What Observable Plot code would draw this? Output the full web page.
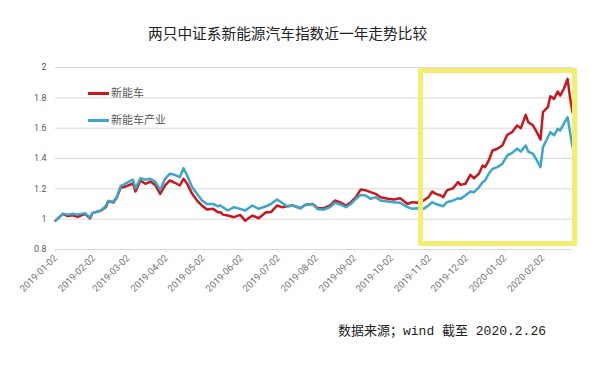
<!DOCTYPE html>
<html>
<head>
<meta charset="utf-8">
<script src="https://cdn.jsdelivr.net/npm/d3@7"></script>
<script src="https://cdn.jsdelivr.net/npm/@observablehq/plot@0.6"></script>
<style>
  html, body { margin: 0; padding: 0; background: #fff; }
  #wrap { position: relative; width: 611px; height: 372px; overflow: hidden; background: #fff; }
  #title { position: absolute; top: 23px; left: 148px; line-height: 20px; font-size: 14.7px; color: #222;
           font-family: "Noto Sans CJK SC", sans-serif; white-space: nowrap; }
  #caption { position: absolute; top: 322px; left: 338px; line-height: 20px; font-size: 13px; color: #222;
             font-family: "Liberation Mono", "Noto Sans CJK SC", monospace; white-space: nowrap; }
  #chart { position: absolute; top: 50px; left: 0; }
  .lg { position: absolute; left: 88px; font-size: 11px; color: #595959; font-family: "Noto Sans CJK SC", sans-serif;
        line-height: 14px; white-space: nowrap; }
  .lg i { display: inline-block; width: 21px; height: 3px; vertical-align: middle; margin-right: 2px; position: relative; top: -1px; }
</style>
</head>
<body>
<div id="wrap">
  <div id="title"></div>
  <div id="chart"></div>
  <div class="lg" id="lg1" style="top:85px"><i style="background:#c8171e"></i><span></span></div>
  <div class="lg" id="lg2" style="top:112px"><i style="background:#3aa7cb"></i><span></span></div>
  <div id="caption"></div>
</div>
<script>
const titleText = "两只中证系新能源汽车指数近一年走势比较";
const captionText = "数据来源；wind 截至 2020.2.26";
const seriesNames = ["新能车", "新能车产业"];
const seriesColors = ["#c8171e", "#3aa7cb"];

const dates = [
  "2019-01-02","2019-01-06","2019-01-08","2019-01-12","2019-01-16","2019-01-20","2019-01-23","2019-01-26","2019-01-30",
  "2019-02-01","2019-02-08","2019-02-12","2019-02-14","2019-02-18","2019-02-21","2019-02-24","2019-02-26",
  "2019-03-02","2019-03-06","2019-03-08","2019-03-12","2019-03-16","2019-03-20","2019-03-24","2019-03-28",
  "2019-04-01","2019-04-05","2019-04-09","2019-04-13","2019-04-16","2019-04-19","2019-04-23","2019-04-27",
  "2019-05-01","2019-05-05","2019-05-10","2019-05-14","2019-05-16","2019-05-18","2019-05-22","2019-05-27",
  "2019-06-01","2019-06-05","2019-06-11","2019-06-16","2019-06-22","2019-06-26",
  "2019-07-01","2019-07-05","2019-07-09","2019-07-14","2019-07-20","2019-07-24","2019-07-30",
  "2019-08-03","2019-08-08","2019-08-13","2019-08-17","2019-08-22","2019-08-26","2019-08-30",
  "2019-09-03","2019-09-07","2019-09-11","2019-09-15","2019-09-19","2019-09-23","2019-09-29",
  "2019-10-04","2019-10-09","2019-10-15","2019-10-19","2019-10-23","2019-10-28",
  "2019-11-01","2019-11-04","2019-11-07","2019-11-11","2019-11-13","2019-11-16","2019-11-21","2019-11-25","2019-11-27",
  "2019-12-01","2019-12-05","2019-12-08","2019-12-12","2019-12-15","2019-12-17","2019-12-20","2019-12-23","2019-12-27","2019-12-31",
  "2020-01-04","2020-01-08","2020-01-12","2020-01-15","2020-01-19","2020-01-21","2020-01-25","2020-01-28","2020-01-31",
  "2020-02-02","2020-02-06","2020-02-08","2020-02-11","2020-02-14","2020-02-16","2020-02-19","2020-02-22","2020-02-24","2020-02-26"
];

const newEnergyCar = [
  0.99,1.02,1.035,1.02,1.025,1.015,1.025,1.035,1.005,
  1.04,1.057,1.08,1.12,1.11,1.145,1.21,1.21,
  1.222,1.235,1.182,1.255,1.233,1.248,1.226,1.167,
  1.222,1.255,1.24,1.222,1.266,1.233,1.167,1.123,
  1.09,1.064,1.068,1.046,1.046,1.03,1.024,1.013,
  1.028,0.99,1.024,1.006,1.046,1.046,
  1.09,1.079,1.085,1.09,1.072,1.095,1.10,
  1.072,1.072,1.09,1.123,1.108,1.09,1.112,
  1.145,1.196,1.19,1.178,1.167,1.145,1.134,
  1.13,1.138,1.10,1.112,1.108,1.123,
  1.145,1.182,1.167,1.156,1.145,1.19,1.204,1.244,1.226,
  1.233,1.292,1.27,1.30,1.354,1.343,1.387,1.453,1.464,1.486,
  1.556,1.574,1.617,1.60,1.688,1.64,1.617,1.574,1.525,
  1.705,1.738,1.81,1.793,1.842,1.815,1.86,1.925,1.80,1.705
];

const newEnergyCarIndustry = [
  0.99,1.02,1.035,1.03,1.035,1.03,1.035,1.04,1.01,
  1.04,1.057,1.09,1.12,1.115,1.15,1.22,1.226,
  1.244,1.26,1.205,1.27,1.26,1.266,1.248,1.193,
  1.266,1.30,1.292,1.277,1.336,1.288,1.211,1.167,
  1.123,1.10,1.10,1.085,1.09,1.079,1.057,1.079,
  1.068,1.057,1.09,1.068,1.085,1.10,
  1.13,1.108,1.085,1.09,1.072,1.095,1.10,
  1.065,1.064,1.079,1.108,1.095,1.079,1.10,
  1.134,1.16,1.156,1.134,1.145,1.123,1.117,
  1.112,1.108,1.079,1.068,1.072,1.068,
  1.09,1.112,1.10,1.09,1.085,1.112,1.123,1.138,1.134,
  1.156,1.182,1.178,1.21,1.244,1.255,1.30,1.332,1.343,1.365,
  1.42,1.437,1.464,1.446,1.486,1.446,1.43,1.387,1.343,
  1.475,1.54,1.574,1.552,1.596,1.585,1.63,1.672,1.574,1.475
];

const xTickLabels = ["2019-01-02","2019-02-02","2019-03-02","2019-04-02","2019-05-02","2019-06-02","2019-07-02",
  "2019-08-02","2019-09-02","2019-10-02","2019-11-02","2019-12-02","2020-01-02","2020-02-02"];
const yTicks = [0.8, 1, 1.2, 1.4, 1.6, 1.8, 2];
const xDomain = ["2019-01-02", "2020-02-26"];
const highlightDates = ["2019-10-26", "2020-02-28"];
const highlightValues = [0.836, 1.977];

const parse = d3.utcParse("%Y-%m-%d");
const rows = [];
dates.forEach((d, i) => {
  rows.push({date: parse(d), value: newEnergyCar[i], series: seriesNames[0]});
});
dates.forEach((d, i) => {
  rows.push({date: parse(d), value: newEnergyCarIndustry[i], series: seriesNames[1]});
});
const highlight = [{x1: parse(highlightDates[0]), x2: parse(highlightDates[1]), y1: highlightValues[0], y2: highlightValues[1]}];

document.getElementById("title").textContent = titleText;
document.getElementById("caption").textContent = captionText;
document.querySelector("#lg1 span").textContent = seriesNames[0];
document.querySelector("#lg2 span").textContent = seriesNames[1];

const chart = Plot.plot({
  width: 611,
  height: 270,
  marginTop: 17,
  marginBottom: 71,
  marginLeft: 55,
  marginRight: 39,
  style: {background: "transparent", fontFamily: "Roboto, 'Noto Sans', sans-serif"},
  x: {type: "utc", domain: xDomain.map(parse)},
  y: {domain: [0.8, 2]},
  color: {domain: seriesNames, range: seriesColors},
  marks: [
    Plot.gridY(yTicks, {stroke: "#d9d9d9", strokeOpacity: 1, strokeWidth: 1}),
    Plot.axisY(yTicks, {tickSize: 0, tickPadding: 9, fontSize: 9, fill: "#595959",
      tickFormat: d => String(+d.toFixed(1)), label: null}),
    Plot.axisX(xTickLabels.map(parse), {tickSize: 3, stroke: "#e0e0e0", tickPadding: 4, tickRotate: -45,
      fontSize: 9.5, fill: "#737373", tickFormat: d3.utcFormat("%Y-%m-%d"), label: null}),
    Plot.line(rows.filter(r => r.series === seriesNames[0]), {x: "date", y: "value", stroke: "series", strokeWidth: 2.5, strokeLinejoin: "round"}),
    Plot.line(rows.filter(r => r.series === seriesNames[1]), {x: "date", y: "value", stroke: "series", strokeWidth: 2.5, strokeLinejoin: "round"}),
    Plot.rect(highlight, {x1: "x1", x2: "x2", y1: "y1", y2: "y2", fill: "none", stroke: "#f3ee72", strokeWidth: 5, clip: false})
  ]
});
document.getElementById("chart").appendChild(chart);
</script>
</body>
</html>
